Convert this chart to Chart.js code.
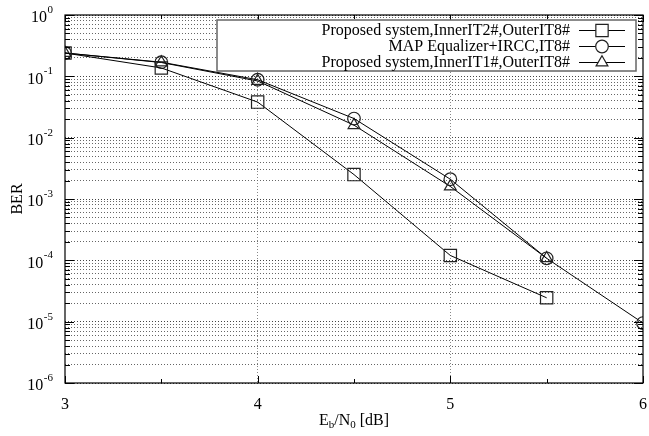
<!DOCTYPE html>
<html>
<head>
<meta charset="utf-8">
<script src="https://cdn.jsdelivr.net/npm/chart.js@4.4.0/dist/chart.umd.min.js"></script>
<style>
  html, body { margin: 0; padding: 0; background: #fff; }
</style>
</head>
<body>
<canvas id="berChart" width="649" height="436"></canvas>
<script>
// data
const ebn0 = [3, 3.5, 4, 4.5, 5, 5.5, 6];
const berInner2 = [0.24, 0.137, 0.038, 0.0025, 1.2e-4, 2.45e-5];
const berMapIrcc = [0.24, 0.17, 0.088, 0.0205, 0.0021, 1.08e-4, 9.5e-6];
const berInner1 = [0.24, 0.168, 0.084, 0.016, 0.0016, 1.08e-4];
const seriesLabels = [
    'Proposed system,InnerIT2#,OuterIT8#',
    'MAP Equalizer+IRCC,IT8#',
    'Proposed system,InnerIT1#,OuterIT8#'
];
const seriesMarkers = ['rect', 'circle', 'triangle'];

// ticks
const xTickValues = [3, 3.5, 4, 4.5, 5, 5.5, 6];
const xTickLabels = ['3', '4', '5', '6'];
const xLabelValues = [3, 4, 5, 6];
const yDecades = [-6, -5, -4, -3, -2, -1, 0];
const yMinorSteps = [2, 3, 4, 5, 6, 7, 8, 9];

const SERIF = '"Liberation Serif", "DejaVu Serif", serif';

function toPoints(ys) {
    return ys.map((y, i) => ({ x: ebn0[i], y: y }));
}

function isDecade(v) {
    const l = Math.log10(v);
    return Math.abs(l - Math.round(l)) < 1e-9;
}

const markerRadius = { rect: 8.7, circle: 6.3, triangle: 6.8 };

function makeSet(i, ys) {
    const style = seriesMarkers[i];
    return {
        label: seriesLabels[i],
        data: toPoints(ys),
        showLine: true,
        borderColor: '#000',
        borderWidth: 1,
        tension: 0,
        pointStyle: style,
        pointRadius: markerRadius[style],
        pointHoverRadius: markerRadius[style],
        pointBorderColor: '#222',
        pointBorderWidth: 1.2,
        pointBackgroundColor: 'rgba(0,0,0,0)'
    };
}

// gnuplot-like decorations: inward ticks, superscript labels, titles, legend
const gnuplotLook = {
    id: 'gnuplotLook',
    afterDraw(chart) {
        const ctx = chart.ctx;
        const area = chart.chartArea;
        const xs = chart.scales.x;
        const ys = chart.scales.y;
        ctx.save();

        // frame
        ctx.strokeStyle = '#000';
        ctx.lineWidth = 1.2;
        ctx.setLineDash([]);
        ctx.strokeRect(area.left, area.top, area.right - area.left, area.bottom - area.top);

        // y ticks (inward, both sides)
        ctx.lineWidth = 1;
        ys.ticks.forEach(t => {
            const py = Math.round(ys.getPixelForValue(t.value)) + 0.5;
            const len = isDecade(t.value) ? 9 : 5;
            ctx.beginPath();
            ctx.moveTo(area.left, py); ctx.lineTo(area.left + len, py);
            ctx.moveTo(area.right, py); ctx.lineTo(area.right - len, py);
            ctx.stroke();
        });
        // x ticks
        xs.ticks.forEach(t => {
            const px = Math.round(xs.getPixelForValue(t.value)) + 0.5;
            const len = Number.isInteger(t.value) ? 7 : 4;
            ctx.beginPath();
            ctx.moveTo(px, area.bottom); ctx.lineTo(px, area.bottom - len);
            ctx.moveTo(px, area.top); ctx.lineTo(px, area.top + len);
            ctx.stroke();
        });

        // y labels 10^n
        ctx.fillStyle = '#000';
        ctx.textBaseline = 'middle';
        yDecades.forEach(e => {
            const py = ys.getPixelForValue(Math.pow(10, e));
            const sup = String(e);
            ctx.font = '11px ' + SERIF;
            const supW = ctx.measureText(sup).width;
            ctx.textAlign = 'right';
            ctx.fillText(sup, 53, py - 5);
            ctx.font = '16px ' + SERIF;
            ctx.fillText('10', 53 - supW - 0.5, py + 3);
        });

        // x labels
        ctx.font = '16px ' + SERIF;
        ctx.textAlign = 'center';
        xLabelValues.forEach((v, i) => {
            ctx.fillText(xTickLabels[i], xs.getPixelForValue(v), 405);
        });

        // x title E_b/N_0 [dB]
        const parts = [['E', 16, 0], ['b', 11, 4], ['/N', 16, 0], ['0', 11, 4], [' [dB]', 16, 0]];
        let total = 0;
        parts.forEach(p => { ctx.font = p[1] + 'px ' + SERIF; total += ctx.measureText(p[0]).width; });
        let cx = (area.left + area.right) / 2 - total / 2;
        ctx.textAlign = 'left';
        parts.forEach(p => {
            ctx.font = p[1] + 'px ' + SERIF;
            ctx.fillText(p[0], cx, 421 + p[2]);
            cx += ctx.measureText(p[0]).width;
        });

        // y title
        ctx.save();
        ctx.translate(18, (area.top + area.bottom) / 2);
        ctx.rotate(-Math.PI / 2);
        ctx.textAlign = 'center';
        ctx.font = '16px ' + SERIF;
        ctx.fillText('BER', 0, 0);
        ctx.restore();

        // legend box
        const box = { left: 217, top: 20, right: 636, bottom: 71 };
        ctx.fillStyle = '#fff';
        ctx.fillRect(box.left, box.top, box.right - box.left, box.bottom - box.top);
        ctx.strokeStyle = '#666';
        ctx.lineWidth = 1.5;
        ctx.strokeRect(box.left, box.top, box.right - box.left, box.bottom - box.top);

        ctx.font = '16px ' + SERIF;
        ctx.textAlign = 'right';
        chart.data.datasets.forEach((ds, i) => {
            const ry = 30 + i * 16;
            ctx.fillStyle = '#000';
            ctx.fillText(ds.label, 570, ry + 1);
            ctx.strokeStyle = '#000';
            ctx.lineWidth = 1;
            ctx.beginPath();
            ctx.moveTo(579, ry + 0.5); ctx.lineTo(625, ry + 0.5);
            ctx.stroke();
            ctx.fillStyle = '#fff';
            ctx.strokeStyle = '#222';
            ctx.lineWidth = 1.2;
            Chart.helpers.drawPoint(ctx, {
                pointStyle: ds.pointStyle,
                radius: ds.pointRadius,
                rotation: 0,
                borderWidth: 1.2
            }, 602, ry + 0.5);
        });

        ctx.restore();
    }
};

function initBerChart() {
    const canvas = document.getElementById('berChart');
    if (!canvas) return;

    const config = {
        type: 'line',
        data: {
            datasets: [
                makeSet(0, berInner2),
                makeSet(1, berMapIrcc),
                makeSet(2, berInner1)
            ]
        },
        options: {
            responsive: false,
            animation: false,
            layout: {
                autoPadding: false,
                padding: { left: 65, right: 6, top: 15, bottom: 53 }
            },
            scales: {
                x: {
                    type: 'linear',
                    min: 3,
                    max: 6,
                    afterBuildTicks: scale => {
                        scale.ticks = xTickValues.map(v => ({ value: v }));
                    },
                    ticks: { display: false },
                    grid: {
                        drawTicks: false,
                        color: c => (c.tick && Number.isInteger(c.tick.value) && c.tick.value > 3 && c.tick.value < 6) ? '#888' : 'rgba(0,0,0,0)',
                        lineWidth: 1
                    },
                    border: { display: false, dash: [1, 2] },
                    title: { display: false }
                },
                y: {
                    type: 'logarithmic',
                    min: 1e-6,
                    max: 1,
                    afterBuildTicks: scale => {
                        const t = [];
                        yDecades.forEach(e => {
                            t.push({ value: Math.pow(10, e) });
                            if (e < 0) {
                                yMinorSteps.forEach(m => t.push({ value: m * Math.pow(10, e) }));
                            }
                        });
                        scale.ticks = t;
                    },
                    ticks: { display: false },
                    grid: {
                        drawTicks: false,
                        color: c => (c.tick && isDecade(c.tick.value)) ? '#444' : '#666',
                        lineWidth: 1
                    },
                    border: { display: false, dash: [1, 2] },
                    title: { display: false }
                }
            },
            plugins: {
                legend: { display: false },
                tooltip: { enabled: false }
            }
        },
        plugins: [gnuplotLook]
    };

    new Chart(canvas, config);
}

document.addEventListener('DOMContentLoaded', function() {
    initBerChart();
});
</script>
</body>
</html>
